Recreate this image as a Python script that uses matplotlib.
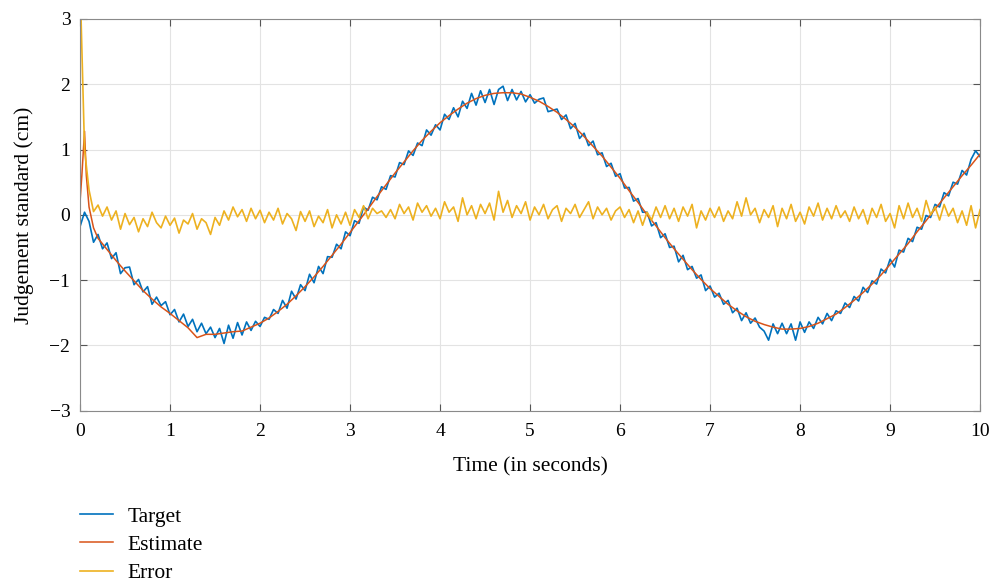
import numpy as np
import matplotlib
matplotlib.use('Agg')
import matplotlib.pyplot as plt

# sampled every 0.05 s
t = np.round(np.arange(0, 10.001, 0.05), 2)

target = [
    -0.18, 0.04, -0.10, -0.42, -0.30, -0.52, -0.43, -0.67, -0.58, -0.90,
    -0.81, -0.80, -1.07, -0.99, -1.18, -1.10, -1.37, -1.26, -1.39, -1.33,
    -1.53, -1.45, -1.64, -1.52, -1.71, -1.60, -1.79, -1.66, -1.82, -1.72,
    -1.88, -1.74, -1.97, -1.69, -1.89, -1.65, -1.84, -1.64, -1.77, -1.63,
    -1.71, -1.57, -1.60, -1.45, -1.51, -1.31, -1.43, -1.17, -1.29, -1.07,
    -1.16, -0.91, -1.04, -0.79, -0.90, -0.64, -0.65, -0.45, -0.52, -0.26,
    -0.32, -0.09, -0.13, 0.12, 0.07, 0.27, 0.23, 0.43, 0.39, 0.60,
    0.58, 0.80, 0.77, 0.98, 0.91, 1.10, 1.06, 1.30, 1.22, 1.38,
    1.30, 1.54, 1.46, 1.64, 1.50, 1.74, 1.63, 1.86, 1.68, 1.90,
    1.72, 1.92, 1.69, 1.92, 1.97, 1.75, 1.92, 1.76, 1.89, 1.73,
    1.84, 1.71, 1.77, 1.79, 1.58, 1.60, 1.62, 1.46, 1.53, 1.32,
    1.40, 1.17, 1.25, 1.06, 1.13, 0.92, 0.95, 0.74, 0.79, 0.59,
    0.63, 0.41, 0.42, 0.21, 0.25, 0.04, 0.04, -0.17, -0.12, -0.35,
    -0.29, -0.50, -0.48, -0.72, -0.62, -0.84, -0.79, -0.97, -0.92, -1.16,
    -1.09, -1.26, -1.20, -1.37, -1.31, -1.50, -1.43, -1.62, -1.50, -1.66,
    -1.58, -1.72, -1.78, -1.92, -1.67, -1.82, -1.66, -1.82, -1.67, -1.92,
    -1.64, -1.80, -1.64, -1.74, -1.57, -1.67, -1.51, -1.62, -1.47, -1.51,
    -1.35, -1.42, -1.25, -1.32, -1.11, -1.19, -1.01, -1.06, -0.83, -0.89,
    -0.68, -0.80, -0.54, -0.57, -0.36, -0.41, -0.19, -0.22, -0.01, -0.04,
    0.16, 0.12, 0.34, 0.29, 0.50, 0.47, 0.68, 0.61, 0.85, 0.98,
    0.89,
]

error = [
    3.60, 1.00, 0.38, 0.05, 0.15, -0.02, 0.12, -0.08, 0.06, -0.22,
    0.02, -0.15, -0.04, -0.26, -0.06, -0.18, 0.04, -0.12, -0.20, -0.02,
    -0.16, -0.05, -0.28, -0.08, -0.14, 0.02, -0.22, -0.06, -0.12, -0.30,
    -0.04, -0.16, 0.06, -0.08, 0.12, -0.03, 0.08, -0.10, 0.10, -0.06,
    0.07, -0.12, 0.04, -0.08, 0.10, -0.14, 0.02, -0.06, -0.24, 0.05,
    -0.10, 0.06, -0.18, -0.02, -0.12, 0.08, -0.20, 0.00, -0.14, 0.04,
    -0.16, 0.08, -0.04, 0.14, -0.06, 0.10, 0.02, 0.06, -0.04, 0.08,
    -0.06, 0.16, 0.02, 0.12, -0.08, 0.18, 0.04, 0.14, -0.02, 0.10,
    -0.06, 0.20, 0.04, 0.12, -0.10, 0.26, 0.00, 0.14, -0.06, 0.16,
    0.02, 0.18, -0.08, 0.36, 0.04, 0.22, -0.04, 0.14, 0.02, 0.20,
    -0.08, 0.12, 0.00, 0.16, -0.06, 0.08, 0.14, -0.10, 0.10, 0.02,
    0.16, -0.04, 0.08, 0.20, -0.06, 0.12, 0.00, 0.10, -0.08, 0.06,
    0.12, -0.04, 0.08, -0.12, 0.06, -0.16, 0.04, -0.08, 0.12, -0.04,
    0.14, -0.06, 0.10, -0.10, 0.12, -0.02, 0.16, -0.20, 0.06, -0.08,
    0.10, -0.04, 0.12, -0.10, 0.06, -0.06, 0.20, -0.02, 0.26, 0.00,
    0.10, -0.12, 0.08, -0.04, 0.14, -0.18, 0.10, -0.06, 0.16, -0.10,
    0.04, -0.14, 0.12, -0.02, 0.18, -0.08, 0.10, -0.06, 0.14, -0.04,
    0.06, -0.10, 0.12, -0.06, 0.08, -0.14, 0.10, -0.04, 0.16, -0.10,
    0.02, -0.20, 0.14, -0.06, 0.18, -0.04, 0.10, -0.10, 0.22, 0.00,
    0.12, -0.08, 0.16, -0.02, 0.10, -0.12, 0.06, -0.16, 0.14, -0.20,
    0.08,
]

# estimate is smooth, finer steps only at the start-up transient
t_est = np.concatenate([[0, 0.02, 0.05, 0.07, 0.1, 0.15],
                        np.round(np.arange(0.2, 10.001, 0.1), 2)])
estimate = [
    0.20, 0.60, 1.28, 0.60, 0.12, -0.20,
    -0.36, -0.53, -0.70, -0.86, -1.01, -1.16, -1.29, -1.41, -1.51, -1.62,
    -1.73, -1.88, -1.83, -1.83, -1.81, -1.79, -1.78, -1.72, -1.66, -1.58,
    -1.48, -1.37, -1.24, -1.10, -0.95, -0.79, -0.62, -0.45, -0.27, -0.09,
    0.09, 0.28, 0.46, 0.64, 0.81, 0.98, 1.14, 1.28, 1.41, 1.52,
    1.62, 1.71, 1.78, 1.83, 1.86, 1.87, 1.87, 1.85, 1.80, 1.74,
    1.66, 1.57, 1.46, 1.34, 1.20, 1.05, 0.90, 0.73, 0.56, 0.37,
    0.19, 0.00, -0.17, -0.35, -0.52, -0.68, -0.84, -0.99, -1.13, -1.25,
    -1.37, -1.47, -1.56, -1.63, -1.68, -1.72, -1.75, -1.75, -1.74, -1.71,
    -1.66, -1.59, -1.52, -1.42, -1.31, -1.19, -1.06, -0.92, -0.76, -0.60,
    -0.44, -0.26, -0.09, 0.09, 0.26, 0.43, 0.60, 0.76, 0.93,
]

plt.rcParams['font.family'] = ['Liberation Serif', 'DejaVu Serif']
plt.rcParams['font.size'] = 14

fig = plt.figure(figsize=(9.93, 5.83), dpi=100)
ax = fig.add_axes([0.0806, 0.2955, 0.9064, 0.672])

ax.plot(t, target, color='#0072BD', lw=1.2, label='Target')
ax.plot(t_est, estimate, color='#D95319', lw=1.1, label='Estimate')
ax.plot(t, error, color='#EDB120', lw=1.2, label='Error')

ax.set_xlim(0, 10)
ax.set_ylim(-3, 3)
ax.set_xticks(range(0, 11))
ax.set_yticks(range(-3, 4))
ax.grid(True, color='#e3e3e3', lw=0.8)
ax.set_axisbelow(True)
ax.tick_params(direction='in', top=True, right=True, length=5,
               color='#555555', labelsize=14)
ax.tick_params(axis='x', pad=9)
ax.tick_params(axis='y', pad=7)
for s in ax.spines.values():
    s.set_color('#8a8a8a')
    s.set_linewidth(0.8)

ax.set_xlabel('Time (in seconds)', fontsize=15.5, labelpad=12)
ax.set_ylabel('Judgement standard (cm)', fontsize=15.5, labelpad=11)

fig.legend(loc='upper left', bbox_to_anchor=(0.0806, 0.131), frameon=False,
           fontsize=15.5, handlelength=1.55, handletextpad=0.65,
           labelspacing=0.38, borderpad=0, borderaxespad=0)

fig.savefig('out.png', dpi=100)
